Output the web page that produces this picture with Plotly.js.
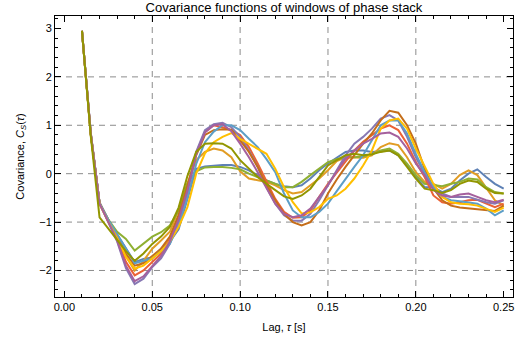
<!DOCTYPE html>
<html>
<head>
<meta charset="utf-8">
<script src="https://cdn.plot.ly/plotly-3.0.1.min.js"></script>
<style>html,body{margin:0;padding:0;background:#fff;}#chart{width:520px;height:344px;}</style>
</head>
<body>
<div id="chart"></div>
<script>
// Lag values (s)
const lag = [0.010,0.015,0.020,0.025,0.030,0.035,0.040,0.045,0.050,0.055,0.060,0.065,0.070,0.075,0.080,0.085,0.090,0.095,0.100,0.105,0.110,0.115,0.120,0.125,0.130,0.135,0.140,0.145,0.150,0.155,0.160,0.165,0.170,0.175,0.180,0.185,0.190,0.195,0.200,0.205,0.210,0.215,0.220,0.225,0.230,0.235,0.240,0.245,0.250];

// Covariance series, one per window
const win1 = [2.95,0.83,-0.6,-0.95,-1.25,-1.55,-1.83,-1.76,-1.73,-1.55,-1.4,-1.15,-0.5,0.1, 0.15,0.17,0.18,0.18,0.14, 0.07,-0.03,-0.14,-0.21,-0.26,-0.28,-0.24,-0.1,0.07,0.21, 0.33, 0.45,0.48,0.48,0.45,0.47,0.48,0.38,0.17,-0.07,-0.28, -0.28,-0.38,-0.31,-0.14,0.0,0.09,-0.07,-0.21,-0.31];
const win2 = [2.95,0.8,-0.6,-0.95,-1.3,-1.7,-2.0,-1.8,-1.55,-1.38,-1.2,-0.75,-0.2,0.28, 0.45,0.52,0.48,0.34,0.05, -0.1,-0.14,-0.17,-0.24,-0.34,-0.41,-0.38,-0.24,-0.1,0.07, 0.26, 0.34,0.34,0.33,0.38,0.55,0.63,0.59,0.34,0.03,-0.17, -0.21,-0.31,-0.21,-0.03,0.07,-0.03,-0.28,-0.55,-0.66];
const win3 = [2.95,0.8,-0.62,-0.95,-1.2,-1.35,-1.59,-1.45,-1.3,-1.21,-1.07,-0.76,-0.2,0.05, 0.13,0.14,0.14,0.12,0.09, 0.0,-0.07,-0.14,-0.21,-0.28,-0.28,-0.17,-0.03,0.1,0.24, 0.3, 0.34,0.34,0.36,0.4,0.48,0.52,0.41,0.21,-0.03,-0.21, -0.24,-0.26,-0.21,-0.17,-0.1,-0.12,-0.28,-0.38,-0.41];
const win4 = [2.95,0.82,-0.62,-1.0,-1.35,-1.82,-2.1,-2.0,-1.82,-1.65,-1.35,-0.9,-0.3,0.42, 0.87,1.0,0.96,0.9,0.8, 0.55,0.21,-0.17,-0.52,-0.79,-0.91,-0.9,-0.76,-0.48,-0.21, 0.02, 0.24,0.48,0.66,0.79,0.93,1.0,0.9,0.62,0.24,-0.07, -0.45,-0.59,-0.62,-0.59,-0.55,-0.54,-0.61,-0.69,-0.62];
const win5 = [2.95,0.85,-0.6,-1.0,-1.4,-1.95,-2.28,-2.17,-1.93,-1.75,-1.45,-1.0,-0.4,0.45, 0.9,1.02,1.05,0.96,0.76, 0.48,0.14,-0.28,-0.62,-0.86,-0.97,-0.97,-0.83,-0.55,-0.24, 0.08, 0.38,0.62,0.76,0.93,1.14,1.21,1.1,0.76,0.34,0.0, -0.28,-0.41,-0.48,-0.48,-0.48,-0.54,-0.59,-0.62,-0.55];
const win6 = [2.95,0.82,-0.6,-0.98,-1.3,-1.65,-1.9,-1.85,-1.7,-1.55,-1.3,-0.85,-0.25,0.38, 0.8,0.9,0.92,0.91,0.69, 0.45,0.14,-0.24,-0.55,-0.83,-1.0,-1.07,-1.0,-0.76,-0.41, -0.12, 0.14,0.38,0.62,0.83,1.1,1.3,1.26,1.0,0.62,0.1, -0.3,-0.55,-0.66,-0.7,-0.72,-0.74,-0.76,-0.77,-0.66];
const win7 = [2.95,0.83,-0.6,-0.95,-1.25,-1.55,-1.85,-1.8,-1.75,-1.6,-1.45,-1.05,-0.5,0.2, 0.65,0.87,1.0,1.0,0.9, 0.72,0.55,0.3,0.03,-0.41,-0.76,-0.9,-0.9,-0.79,-0.62, -0.36, -0.1,0.14,0.38,0.69,1.0,1.1,1.1,0.83,0.41,0.03, -0.28,-0.48,-0.55,-0.57,-0.59,-0.62,-0.72,-0.86,-0.76];
const win8 = [2.95,0.82,-0.62,-1.0,-1.33,-1.72,-1.96,-1.9,-1.75,-1.6,-1.4,-1.1,-0.69,0.0, 0.42,0.65,0.76,0.84,0.72, 0.62,0.52,0.41,0.1,-0.28,-0.59,-0.82,-0.8,-0.69,-0.52, -0.45, -0.31,-0.1,0.17,0.48,0.93,1.1,1.14,0.93,0.52,0.14, -0.21,-0.48,-0.59,-0.62,-0.63,-0.66,-0.72,-0.79,-0.7];
const win9 = [2.95,0.85,-0.62,-1.0,-1.38,-1.9,-2.22,-2.12,-1.9,-1.7,-1.4,-0.95,-0.35,0.4, 0.85,1.0,1.02,0.88,0.62, 0.34,0.03,-0.31,-0.62,-0.83,-0.9,-0.86,-0.72,-0.48,-0.24, 0.05, 0.31,0.48,0.62,0.72,0.83,0.85,0.76,0.52,0.21,-0.03, -0.34,-0.45,-0.48,-0.43,-0.41,-0.48,-0.55,-0.59,-0.54];
const win10 = [2.95,0.78,-0.9,-1.13,-1.38,-1.6,-1.8,-1.65,-1.45,-1.3,-1.1,-0.7,-0.05,0.45, 0.62,0.63,0.62,0.52,0.28, 0.1,-0.07,-0.21,-0.34,-0.47,-0.52,-0.45,-0.31,-0.07,0.17, 0.28, 0.38,0.41,0.38,0.4,0.45,0.48,0.38,0.14,-0.1,-0.31, -0.34,-0.4,-0.34,-0.21,-0.14,-0.17,-0.31,-0.4,-0.41];

const seriesList = [win1,win2,win3,win4,win5,win6,win7,win8,win9,win10];
const colors = ['#5E81B5','#E19C24','#8FB032','#EB6235','#8778B3','#C56E1A','#5D9EC7','#FFBF00','#A5609D','#929600'];

// Tick / grid positions
const xTicks = [0,0.05,0.10,0.15,0.20,0.25];
const xTickText = ['0.00','0.05','0.10','0.15','0.20','0.25'];
const yTicks = [-2,-1,0,1,2,3];
const yTickText = ['\u22122','\u22121','0','1','2','3'];
const gridX = [0.05,0.10,0.15,0.20];
const gridY = [-2,-1,0,1,2];

const traces = seriesList.map((s,i)=>({
  x: lag, y: s, type:'scatter', mode:'lines',
  line:{color:colors[i], width:2},
  hoverinfo:'skip', showlegend:false
}));

const xr = [-0.00535, 0.2553];
const yr = [-2.548, 3.258];

const shapes = [];
gridX.forEach(v=>shapes.push({type:'line', xref:'x', yref:'paper', x0:v, x1:v, y0:0, y1:1, layer:'below', line:{color:'#8c8c8c', width:1, dash:'6px,5px'}}));
gridY.forEach(v=>shapes.push({type:'line', xref:'paper', yref:'y', x0:0, x1:1, y0:v, y1:v, layer:'below', line:{color:'#8c8c8c', width:1, dash:'6px,5px'}}));

const font = {family:'"Liberation Sans", Arial, Helvetica, sans-serif', size:11, color:'#000'};

const axisCommon = {
  showline:true, linecolor:'#000', linewidth:1, mirror:'ticks',
  ticks:'inside', ticklen:6, tickcolor:'#000', tickwidth:1,
  showgrid:false, zeroline:false, tickfont:font
};

const layout = {
  width:520, height:344,
  margin:{l:55, r:7, t:16, b:47},
  paper_bgcolor:'#fff', plot_bgcolor:'#fff',
  font:font,
  showlegend:false,
  title:{text:'Covariance functions of windows of phase stack', font:{family:font.family, size:13, color:'#000'}, x:0.5, xref:'paper', xanchor:'center', y:0.978, yref:'container', yanchor:'middle'},
  xaxis:Object.assign({}, axisCommon, {
    range:xr, tickmode:'array', tickvals:xTicks, ticktext:xTickText,
    minor:{dtick:0.01, tick0:0, ticks:'inside', ticklen:3, tickcolor:'#000', showgrid:false},
    title:{text:'Lag, <i>τ</i> [s]', font:font, standoff:11}
  }),
  yaxis:Object.assign({}, axisCommon, {
    range:yr, tickmode:'array', tickvals:yTicks, ticktext:yTickText,
    minor:{dtick:0.2, tick0:0, ticks:'inside', ticklen:3, tickcolor:'#000', showgrid:false},
    title:{text:'Covariance, <i>C</i><sub><i>S</i></sub>(<i>τ</i>)', font:font, standoff:12}
  }),
  shapes:shapes
};

Plotly.newPlot('chart', traces, layout, {staticPlot:true, displayModeBar:false});
</script>
</body>
</html>
